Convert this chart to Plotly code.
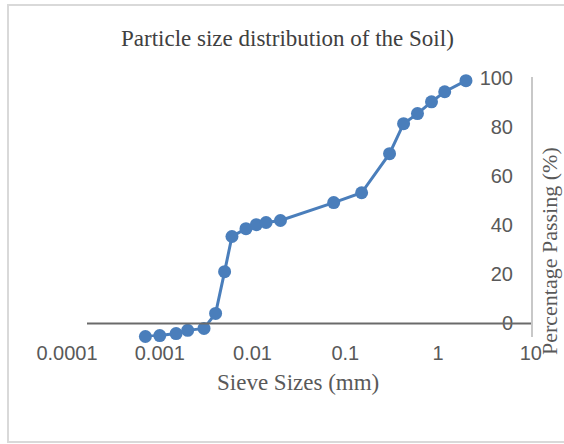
import plotly.graph_objects as go

sieve_mm = [0.0007, 0.001, 0.0015, 0.002, 0.003, 0.004, 0.005, 0.006, 0.0085, 0.011,
            0.014, 0.02, 0.075, 0.15, 0.3, 0.425, 0.6, 0.85, 1.18, 2.0]
passing_pct = [-5.3, -4.9, -4.1, -2.8, -2.0, 4.1, 21.1, 35.4, 38.6, 40.2,
               41.1, 41.9, 49.2, 53.2, 69.1, 81.3, 85.4, 90.2, 94.3, 98.8]
x_ticks = [0.0001, 0.001, 0.01, 0.1, 1, 10]
x_ticklabels = ["0.0001", "0.001", "0.01", "0.1", "1", "10"]
y_ticks = [0, 20, 40, 60, 80, 100]

W, H = 564, 444
L, R, T, B = 67, 33, 77, 107
pw, ph = W - L - R, H - T - B

def px(x):
    return (x - L) / pw

def py(y):
    return (H - B - y) / ph

blue = "#4a7ebb"
grey = "#595959"

fig = go.Figure()
fig.add_trace(go.Scatter(
    x=sieve_mm, y=passing_pct, mode="lines+markers",
    line=dict(color=blue, width=3),
    marker=dict(color=blue, size=13),
    showlegend=False, cliponaxis=False, hoverinfo="skip",
))

fig.update_layout(
    width=W, height=H,
    margin=dict(l=L, r=R, t=T, b=B),
    paper_bgcolor="white", plot_bgcolor="white",
    font=dict(family="Liberation Sans, Arial, sans-serif", color=grey, size=20),
    xaxis=dict(
        type="log", range=[-4, 1.002], tickvals=x_ticks, ticktext=x_ticklabels,
        showgrid=False, zeroline=False, showline=False, ticks="",
        tickfont=dict(size=20, color=grey), ticklabeloverflow="allow",
        ticklabelstandoff=2,
    ),
    yaxis=dict(
        range=[-5.5, 100.3], tickvals=y_ticks, side="right",
        ticklabelposition="inside", ticklabeloverflow="allow",
        ticklabelstandoff=19,
        showgrid=False, zeroline=False,
        showline=True, linecolor="#c8c8c8", linewidth=2, ticks="",
        tickfont=dict(size=20, color=grey),
    ),
)

# x axis line crossing at y = 0
fig.add_shape(type="line", xref="paper", yref="y", x0=px(87), x1=1.0, y0=0, y1=0,
              line=dict(color="#6a6a6a", width=2))

# chart border
fig.add_shape(type="rect", xref="paper", yref="paper",
              x0=px(8), x1=px(570), y0=py(442), y1=py(5),
              line=dict(color="#d9d9d9", width=2), fillcolor="rgba(0,0,0,0)", layer="below")

serif = "Liberation Serif, Times New Roman, serif"
fig.add_annotation(text="Particle size distribution of the Soil)", xref="paper", yref="paper",
                   x=px(287), y=py(38), xanchor="center", yanchor="middle", showarrow=False,
                   font=dict(family=serif, size=23, color="#404040"))
fig.add_annotation(text="Sieve Sizes (mm)", xref="paper", yref="paper",
                   x=px(298), y=py(382), xanchor="center", yanchor="middle", showarrow=False,
                   font=dict(family=serif, size=23, color=grey))
fig.add_annotation(text="Percentage Passing (%)", xref="paper", yref="paper",
                   x=px(549), y=py(251), xanchor="center", yanchor="middle", showarrow=False,
                   textangle=-90,
                   font=dict(family=serif, size=22, color=grey))

fig.write_html("out.html", config={"displayModeBar": False, "staticPlot": True},
               post_script="document.body.style.margin='0';")
